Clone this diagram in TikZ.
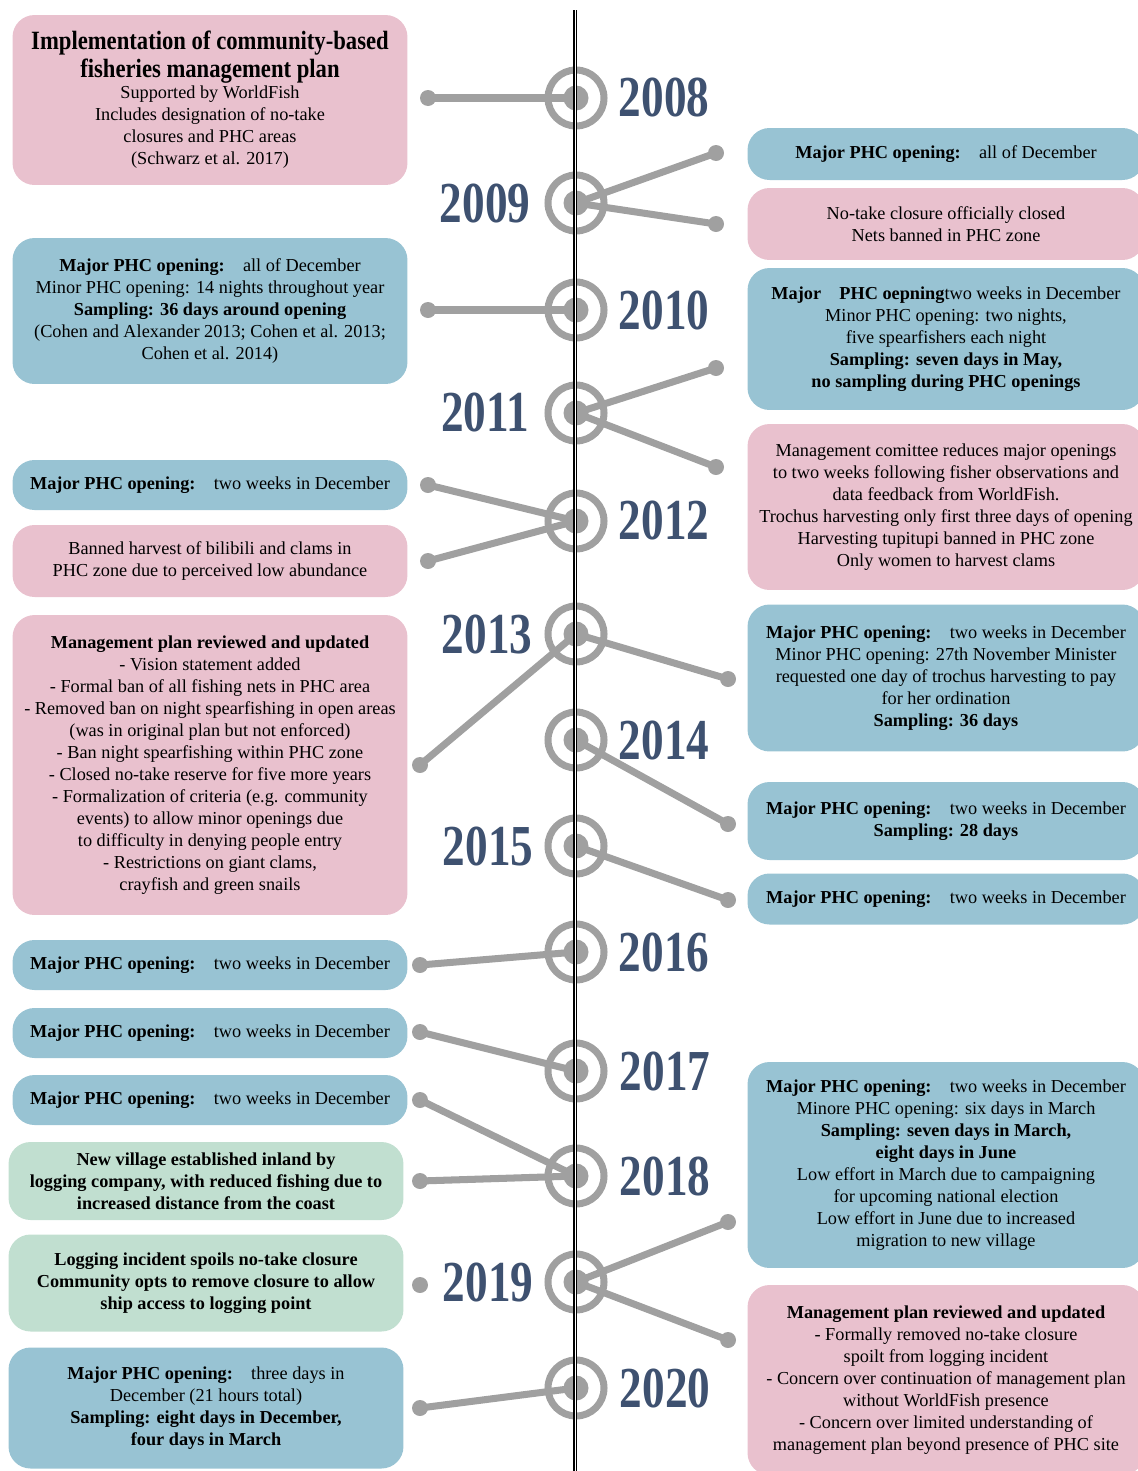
\documentclass[tikz,border=0pt]{standalone}
\usepackage{fontspec}
\setmainfont{Liberation Serif}
\newfontfamily\yearfont[FakeStretch=0.78]{Liberation Serif}
\newfontfamily\titlefam[FakeStretch=0.86]{Liberation Serif}

\definecolor{boxpink}{HTML}{E9C1CE}
\definecolor{boxblue}{HTML}{98C3D3}
\definecolor{boxgreen}{HTML}{C1DFD0}
\definecolor{yeartext}{HTML}{3E5170}
\definecolor{linkgray}{HTML}{A0A0A0}

\newcommand{\majorphc}{\textbf{Major PHC opening:}\quad}
\newcommand{\titlefont}{\titlefam\fontsize{15}{17}\selectfont\bfseries}

\tikzset{
  infobox/.style={rounded corners=0.44cm, align=center, inner sep=0pt,
    font=\fontsize{10.4}{12.5}\selectfont},
  leftbox/.style={infobox, minimum width=7.9cm},
  rightbox/.style={infobox, minimum width=7.94cm},
  yearring/.style={circle, draw=linkgray, line width=4pt, minimum size=1.12cm, inner sep=0pt},
  hubdot/.style={circle, fill=linkgray, minimum size=0.5cm, inner sep=0pt},
  enddot/.style={circle, fill=linkgray, minimum size=0.32cm, inner sep=0pt},
  link/.style={draw=linkgray, line width=4pt},
  yearlabel/.style={text=yeartext, inner sep=0pt,
    font=\yearfont\bfseries\fontsize{33}{36}\selectfont}
}

\begin{document}
\begin{tikzpicture}[x=0.02cm, y=-0.02cm]
\useasboundingbox (0,0) rectangle (1137,1471);

% Left column boxes
\node[leftbox, fill=boxpink, minimum height=3.4cm] (b08) at (210,100)
  {{\titlefont Implementation of community-based}\\[1pt]
   {\titlefont fisheries management plan}\\[-0.5pt]
   Supported by WorldFish\\ Includes designation of no-take\\
   closures and PHC areas\\ (Schwarz et al. 2017)};
\node[leftbox, fill=boxblue, minimum height=2.92cm] (b10) at (210,311)
  {\majorphc all of December\\ Minor PHC opening: 14 nights throughout year\\
   \textbf{Sampling: 36 days around opening}\\
   (Cohen and Alexander 2013; Cohen et al. 2013;\\ Cohen et al. 2014)};
\node[leftbox, fill=boxblue, minimum height=1cm] (b12a) at (210,485)
  {\majorphc two weeks in December};
\node[leftbox, fill=boxpink, minimum height=1.44cm] (b12b) at (210,561)
  {Banned harvest of bilibili and clams in\\ PHC zone due to perceived low abundance};
\node[leftbox, fill=boxpink, minimum height=6cm] (b13a) at (210,765)
  {\textbf{Management plan reviewed and updated}\\ - Vision statement added\\
   - Formal ban of all fishing nets in PHC area\\
   - Removed ban on night spearfishing in open areas\\
   (was in original plan but not enforced)\\ - Ban night spearfishing within PHC zone\\
   - Closed no-take reserve for five more years\\
   - Formalization of criteria (e.g. community\\ events) to allow minor openings due\\
   to difficulty in denying people entry\\ - Restrictions on giant clams,\\
   crayfish and green snails};
\node[leftbox, fill=boxblue, minimum height=1cm] (b16) at (210,965)
  {\majorphc two weeks in December};
\node[leftbox, fill=boxblue, minimum height=1cm] (b17) at (210,1033)
  {\majorphc two weeks in December};
\node[leftbox, fill=boxblue, minimum height=1cm] (b18a) at (210,1100)
  {\majorphc two weeks in December};
\node[leftbox, fill=boxgreen, minimum height=1.56cm] (b18b) at (206,1181)
  {\textbf{New village established inland by}\\
   \textbf{logging company, with reduced fishing due to}\\
   \textbf{increased distance from the coast}};
\node[leftbox, fill=boxgreen, minimum height=1.94cm] (b19a) at (206,1283)
  {\textbf{Logging incident spoils no-take closure}\\
   \textbf{Community opts to remove closure to allow}\\
   \textbf{ship access to logging point}};
\node[leftbox, fill=boxblue, minimum height=2.42cm] (b20) at (206,1408)
  {\majorphc three days in\\ December (21 hours total)\\
   \textbf{Sampling: eight days in December,}\\ \textbf{four days in March}};

% Right column boxes
\node[rightbox, fill=boxblue, minimum height=1.04cm] (b09a) at (946,154)
  {\majorphc all of December};
\node[rightbox, fill=boxpink, minimum height=1.44cm] (b09b) at (946,224)
  {No-take closure officially closed\\ Nets banned in PHC zone};
\node[rightbox, fill=boxblue, minimum height=2.84cm] (b11a) at (946,339)
  {\textbf{Major\quad PHC oepning}two weeks in December\\
   Minor PHC opening: two nights,\\ five spearfishers each night\\
   \textbf{Sampling: seven days in May,}\\ \textbf{no sampling during PHC openings}};
\node[rightbox, fill=boxpink, minimum height=3.32cm] (b11b) at (946,507)
  {Management comittee reduces major openings\\
   to two weeks following fisher observations and\\ data feedback from WorldFish.\\
   Trochus harvesting only first three days of opening\\
   Harvesting tupitupi banned in PHC zone\\ Only women to harvest clams};
\node[rightbox, fill=boxblue, minimum height=2.94cm] (b13b) at (946,678)
  {\majorphc two weeks in December\\ Minor PHC opening: 27th November Minister\\
   requested one day of trochus harvesting to pay\\ for her ordination\\
   \textbf{Sampling: 36 days}};
\node[rightbox, fill=boxblue, minimum height=1.56cm] (b14) at (946,821)
  {\majorphc two weeks in December\\ \textbf{Sampling: 28 days}};
\node[rightbox, fill=boxblue, minimum height=1.02cm] (b15) at (946,899)
  {\majorphc two weeks in December};
\node[rightbox, fill=boxblue, minimum height=4.12cm] (b19b) at (946,1165)
  {\majorphc two weeks in December\\ Minore PHC opening: six days in March\\
   \textbf{Sampling: seven days in March,}\\ \textbf{eight days in June}\\
   Low effort in March due to campaigning\\ for upcoming national election\\
   Low effort in June due to increased\\ migration to new village};
\node[rightbox, fill=boxpink, minimum height=3.8cm] (b19c) at (946,1380)
  {\textbf{Management plan reviewed and updated}\\
   - Formally removed no-take closure\\ spoilt from logging incident\\
   - Concern over continuation of management plan\\ without WorldFish presence\\
   - Concern over limited understanding of\\
   management plan beyond presence of PHC site};

% Year rings on the time line
\foreach \yr/\yy in {08/98,09/203,10/310,11/413,12/521,13/634,14/740,
                     15/846,16/952,17/1071,18/1176,19/1282,20/1388} {
  \node[yearring] (c\yr) at (576,\yy) {};
}

% Loose ends of the connectors
\foreach \dn/\dx/\dy in {08/428/98, 09a/716/153, 09b/716/224, 10/428/310,
    11a/716/368, 11b/716/467, 12a/428/485, 12b/428/561, 13a/420/765,
    13b/728/679, 14/728/824, 15/728/900, 16/420/965, 17/420/1032,
    18a/420/1100, 18b/420/1181, 19a/420/1285, 19b/728/1222, 19c/728/1340,
    20/420/1408} {
  \node[enddot] (d\dn) at (\dx,\dy) {};
}

% Connectors
\foreach \a/\b in {08/08, 09/09a, 09/09b, 10/10, 11/11a, 11/11b, 12/12a,
    12/12b, 13/13a, 13/13b, 14/14, 15/15, 16/16, 17/17, 18/18a, 18/18b,
    19/19b, 19/19c, 20/20} {
  \draw[link] (c\a.center) -- (d\b.center);
}

% Hub dots
\foreach \yr in {08,09,10,11,12,13,14,15,16,17,18,19,20} {
  \node[hubdot] (h\yr) at (c\yr) {};
}

% Time line
\coordinate (linetop) at (575,10);
\coordinate (linebottom) at (575,1475);
\draw[draw=black, line width=1.1pt, double=white, double distance=0.5pt]
  (linetop) -- (linebottom);

% Year labels
\foreach \yr/\xx/\yy in {2008/664/97, 2009/485/203, 2010/664/310, 2011/485/412,
    2012/664/520, 2013/487/634, 2014/664/740, 2015/488/846, 2016/664/952,
    2017/665/1071, 2018/665/1176, 2019/488/1282, 2020/665/1388} {
  \node[yearlabel] (y\yr) at (\xx,\yy) {\yr};
}
\end{tikzpicture}
\end{document}
